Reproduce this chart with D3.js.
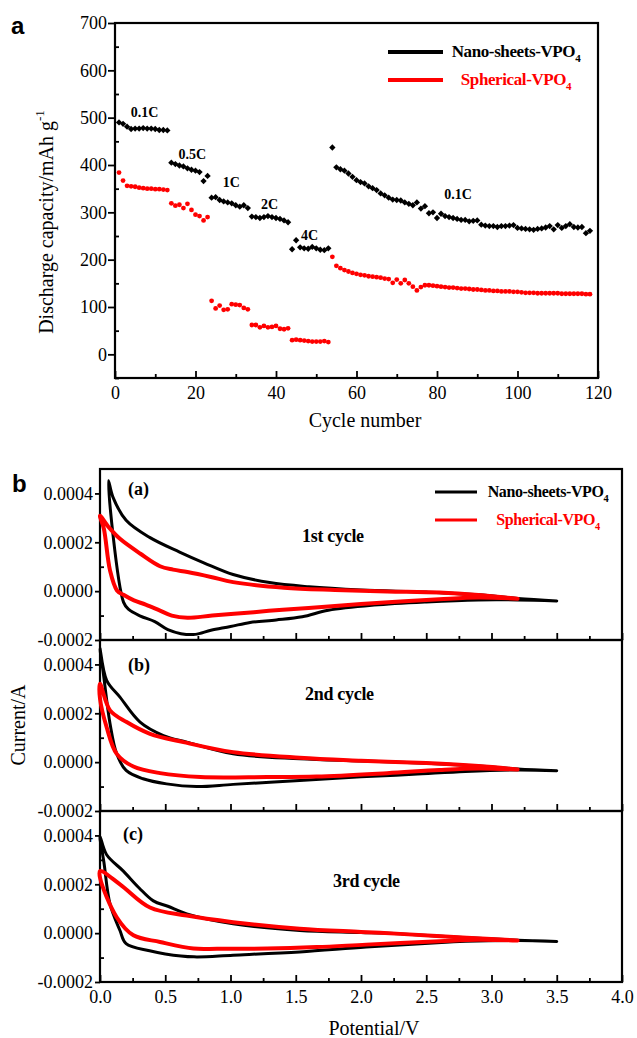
<!DOCTYPE html>
<html>
<head>
<meta charset="utf-8">
<script src="https://cdn.jsdelivr.net/npm/d3@7"></script>
<style>
  body { margin: 0; background: #fff; }
</style>
</head>
<body>
<div id="chart"></div>
<script>
// ---------- data: panel a (discharge capacity, mAh g-1, cycles 1..118) ----------
const seriesNames = ['Nano-sheets-VPO', 'Spherical-VPO']
const seriesColors = ['#000', '#f00']

const nanoCapacity = [
  // 0.1C
  490, 487, 481, 476, 477, 477, 478, 477, 477, 476, 474, 474, 473,
  // 0.5C
  405, 402, 399, 397, 393, 390, 388, 385, 366, 377,
  // 1C
  331, 332, 326, 323, 321, 319, 315, 312, 315, 309,
  // 2C
  291, 290, 288, 290, 292, 290, 288, 286, 283, 279,
  // 4C
  222, 241, 226, 224, 223, 227, 224, 221, 220, 224,
  // 0.1C again
  437, 395, 391, 388, 382, 375, 368, 364, 361, 355,
  351, 347, 340, 336, 331, 327, 326, 325, 321, 318,
  315, 321, 308, 313, 298, 300, 288, 297, 292, 290,
  288, 286, 284, 284, 281, 282, 283, 274, 272, 271,
  271, 269, 271, 271, 272, 273, 267, 266, 265, 264,
  263, 265, 266, 268, 271, 264, 273, 267, 271, 275,
  269, 268, 269, 256, 261,
]

const sphericalCapacity = [
  384, 367, 356, 355, 354, 352, 351, 350, 350, 349, 349, 348, 347,
  319, 314, 316, 309, 318, 305, 295, 292, 283, 290,
  113, 97, 103, 94, 95, 106, 105, 104, 98, 95,
  62, 62, 57, 60, 57, 58, 60, 54, 53, 55,
  30, 31, 30, 29, 28, 27, 27, 27, 28, 26,
  206, 187, 182, 178, 175, 172, 170, 168, 167, 165,
  164, 163, 162, 160, 159, 151, 158, 150, 157, 150,
  143, 135, 142, 146, 146, 145, 144, 143, 142, 141,
  141, 140, 139, 139, 138, 137, 137, 136, 135, 135,
  134, 134, 133, 133, 133, 132, 132, 131, 130, 130,
  130, 129, 129, 129, 129, 129, 129, 128, 128, 128,
  128, 128, 128, 127, 127,
]

const rateLabels = ['0.1C', '0.5C', '1C', '2C', '4C', '0.1C']
// [cycle, capacity] where each rate label starts (baseline)
const rateLabelAnchors = [[3.9, 501], [15.8, 412], [26.8, 354], [36.3, 307], [46.2, 242], [81.8, 328]]

const capacityTicks = [0, 100, 200, 300, 400, 500, 600, 700]
const cycleTicks = [0, 20, 40, 60, 80, 100, 120]

// ---------- data: panel b (cyclic voltammetry, [potential V, current in 1e-4 A]) ----------
const cycleNames = ['1st cycle', '2nd cycle', '3rd cycle']
const panelTags = ['(a)', '(b)', '(c)']

const nanoCV1 = [
  [3.50, -0.40], [3.20, -0.36], [2.90, -0.36], [2.50, -0.44], [2.10, -0.57], [1.75, -0.78],
  [1.55, -1.05], [1.35, -1.18], [1.15, -1.28], [1.00, -1.45], [0.85, -1.60], [0.73, -1.77],
  [0.62, -1.74], [0.52, -1.58], [0.42, -1.25], [0.31, -1.02], [0.22, -0.75], [0.18, -0.45],
  [0.065, 4.52], [0.10, 3.84], [0.20, 2.90], [0.38, 2.20], [0.61, 1.60], [0.80, 1.15],
  [1.02, 0.68], [1.30, 0.35], [1.60, 0.18], [2.00, 0.05], [2.50, -0.04], [2.90, -0.15],
  [3.20, -0.30], [3.50, -0.40],
]
const sphericalCV1 = [
  [3.20, -0.31], [2.90, -0.26], [2.60, -0.33], [2.30, -0.42], [2.00, -0.53], [1.70, -0.65],
  [1.40, -0.76], [1.18, -0.86], [0.86, -1.00], [0.67, -1.09], [0.55, -1.00], [0.46, -0.80],
  [0.35, -0.55], [0.26, -0.38], [0.18, -0.15], [0.13, 0.03], [0.077, 0.84], [0.03, 2.55],
  [0.00, 3.09], [0.07, 2.60], [0.153, 2.14], [0.31, 1.53], [0.46, 1.02], [0.56, 0.88],
  [0.67, 0.78], [0.85, 0.58], [1.02, 0.37], [1.41, 0.14], [1.80, 0.05], [2.20, -0.01],
  [2.60, -0.06], [2.90, -0.16], [3.20, -0.31],
]
const nanoCV2 = [
  [3.50, -0.35], [3.20, -0.32], [2.80, -0.38], [2.40, -0.50], [2.00, -0.60], [1.53, -0.75],
  [1.02, -0.91], [0.74, -1.00], [0.51, -0.89], [0.33, -0.68], [0.20, -0.34], [0.128, 0.34],
  [0.077, 1.57], [0.026, 3.62], [0.00, 4.65], [0.051, 3.35], [0.153, 2.66], [0.307, 1.64],
  [0.486, 1.09], [0.665, 0.82], [1.02, 0.34], [1.53, 0.14], [2.00, 0.05], [2.50, -0.05],
  [2.90, -0.16], [3.20, -0.28], [3.50, -0.35],
]
const sphericalCV2 = [
  [3.20, -0.30], [2.90, -0.26], [2.60, -0.32], [2.20, -0.45], [1.66, -0.59], [1.28, -0.61],
  [0.77, -0.61], [0.46, -0.45], [0.256, -0.18], [0.128, 0.34], [0.051, 1.43], [0.00, 2.60],
  [0.00, 3.21], [0.077, 2.12], [0.204, 1.64], [0.383, 1.16], [0.639, 0.82], [1.02, 0.41],
  [1.53, 0.18], [2.00, 0.06], [2.50, -0.04], [2.90, -0.16], [3.20, -0.30],
]
const nanoCV3 = [
  [3.50, -0.34], [3.20, -0.30], [2.80, -0.33], [2.68, -0.36], [2.04, -0.57], [1.53, -0.77],
  [1.02, -0.90], [0.72, -0.97], [0.50, -0.85], [0.38, -0.72], [0.20, -0.43], [0.153, 0.11],
  [0.077, 1.19], [0.03, 2.90], [0.00, 3.96], [0.051, 3.21], [0.179, 2.54], [0.30, 1.85],
  [0.409, 1.32], [0.52, 1.10], [0.665, 0.79], [1.02, 0.38], [1.53, 0.11], [2.00, 0.03],
  [2.30, -0.03], [2.81, -0.19], [3.20, -0.29], [3.50, -0.34],
]
const sphericalCV3 = [
  [3.20, -0.30], [2.90, -0.27], [2.60, -0.33], [2.04, -0.47], [1.66, -0.57], [1.28, -0.63],
  [0.90, -0.64], [0.716, -0.63], [0.46, -0.36], [0.256, -0.09], [0.128, 0.65], [0.00, 2.27],
  [0.00, 2.54], [0.153, 2.00], [0.383, 1.05], [0.665, 0.72], [1.02, 0.45], [1.53, 0.18],
  [2.00, 0.05], [2.30, -0.03], [2.81, -0.19], [3.20, -0.30],
]
const cvCurves = [[nanoCV1, sphericalCV1], [nanoCV2, sphericalCV2], [nanoCV3, sphericalCV3]]

const currentTicks = [-2, 0, 2, 4]
const potentialTicks = [0, 0.5, 1, 1.5, 2, 2.5, 3, 3.5, 4]

// ---------- layout ----------
const width = 637
const height = 1038
const serif = '"Liberation Serif", "Times New Roman", serif'
const sans = '"Liberation Sans", Arial, sans-serif'

const svg = d3
  .select('#chart')
  .append('svg')
  .attr('width', width)
  .attr('height', height)
  .attr('viewBox', `0 0 ${width} ${height}`)

svg.append('rect').attr('width', width).attr('height', height).attr('fill', '#fff')

// style an axis group: serif labels, thicker ticks, no domain path
function styleAxis(g, fontSize = 18) {
  g.select('.domain').remove()
  g.attr('font-family', serif).attr('font-size', fontSize)
  g.selectAll('line').attr('stroke', '#000').attr('stroke-width', 1.8)
  g.selectAll('text').attr('fill', '#000')
}

// ========== panel a ==========
const pa = { left: 115, right: 598, top: 23, bottom: 378 }
const xA = d3.scaleLinear().domain([0, 120]).range([pa.left, pa.right])
const yA = d3.scaleLinear().domain([-50, 700]).range([pa.bottom, pa.top])

const gA = svg.append('g').attr('class', 'panel-a')

gA.append('g')
  .attr('transform', `translate(0,${pa.bottom})`)
  .call(d3.axisBottom(xA).tickValues(cycleTicks).tickSize(-7).tickPadding(8))
  .call(styleAxis)
gA.append('g')
  .attr('transform', `translate(0,${pa.bottom})`)
  .call(d3.axisBottom(xA).tickValues(cycleTicks.slice(1).map((t) => t - 10)).tickSize(-4).tickFormat(''))
  .call(styleAxis)
gA.append('g')
  .attr('transform', `translate(${pa.left},0)`)
  .call(d3.axisLeft(yA).tickValues(capacityTicks).tickSize(7).tickPadding(1))
  .call(styleAxis)
gA.append('g')
  .attr('transform', `translate(${pa.left},0)`)
  .call(d3.axisLeft(yA).tickValues(capacityTicks.map((t) => t - 50)).tickSize(-4).tickFormat(''))
  .call(styleAxis)

gA.append('rect')
  .attr('x', pa.left)
  .attr('y', pa.top)
  .attr('width', pa.right - pa.left)
  .attr('height', pa.bottom - pa.top)
  .attr('fill', 'none')
  .attr('stroke', '#000')
  .attr('stroke-width', 2.2)

// markers
const diamond = d3.symbol().type(d3.symbolSquare).size(20)
gA.append('g')
  .selectAll('path')
  .data(nanoCapacity)
  .join('path')
  .attr('d', diamond)
  .attr('transform', (d, i) => `translate(${xA(i + 1)},${yA(d)}) rotate(45)`)
  .attr('fill', seriesColors[0])

gA.append('g')
  .selectAll('circle')
  .data(sphericalCapacity)
  .join('circle')
  .attr('cx', (d, i) => xA(i + 1))
  .attr('cy', (d) => yA(d))
  .attr('r', 2.4)
  .attr('fill', seriesColors[1])

// rate labels
gA.append('g')
  .selectAll('text')
  .data(rateLabels)
  .join('text')
  .attr('x', (d, i) => xA(rateLabelAnchors[i][0]))
  .attr('y', (d, i) => yA(rateLabelAnchors[i][1]))
  .attr('font-family', serif)
  .attr('font-weight', 700)
  .attr('font-size', 14)
  .text((d) => d)

// legend
function drawLegend(g, x1, x2, y0, dy, textX, fontSize, lineWidth) {
  seriesNames.forEach((name, i) => {
    const y = y0 + i * dy
    g.append('line')
      .attr('x1', x1)
      .attr('x2', x2)
      .attr('y1', y)
      .attr('y2', y)
      .attr('stroke', seriesColors[i])
      .attr('stroke-width', lineWidth)
    const t = g.append('text')
      .attr('x', textX)
      .attr('y', y + 5)
      .attr('text-anchor', 'middle')
      .attr('font-family', serif)
      .attr('font-weight', 700)
      .attr('font-size', fontSize)
      .attr('letter-spacing', -0.4)
      .attr('fill', seriesColors[i])
    t.append('tspan').text(name)
    t.append('tspan').attr('font-size', fontSize * 0.65).attr('dy', 5).text('4')
  })
}
drawLegend(gA, 388, 443, 52, 28, 516, 17, 4)

// axis titles
gA.append('text')
  .attr('x', 365)
  .attr('y', 427)
  .attr('text-anchor', 'middle')
  .attr('font-family', serif)
  .attr('font-size', 20)
  .text('Cycle number')

const yTitleA = gA.append('text')
  .attr('transform', 'translate(53,222) rotate(-90)')
  .attr('text-anchor', 'middle')
  .attr('font-family', serif)
  .attr('font-size', 20)
yTitleA.append('tspan').text('Discharge capacity/mAh g')
yTitleA.append('tspan').attr('font-size', 13).attr('dy', -9).text('-1')

svg.append('text')
  .attr('x', 11)
  .attr('y', 34)
  .attr('font-family', sans)
  .attr('font-weight', 700)
  .attr('font-size', 24)
  .text('a')

// ========== panel b ==========
const pb = { left: 100, right: 622, tops: [469, 640, 811], h: 171 }
const xB = d3.scaleLinear().domain([0, 4]).range([pb.left, pb.right])
const fmtCurrent = (d) => (d < 0 ? '-' : '') + d3.format('.4f')(Math.abs(d) * 1e-4)

const gB = svg.append('g').attr('class', 'panel-b')

pb.tops.forEach((top, k) => {
  const yB = d3.scaleLinear().domain([-2, 5]).range([top + pb.h, top])
  const g = gB.append('g').attr('class', `cv-${k}`)
  const last = k === pb.tops.length - 1

  g.append('g')
    .attr('transform', `translate(0,${top + pb.h})`)
    .call(
      d3.axisBottom(xB)
        .tickValues(potentialTicks)
        .tickSize(-7)
        .tickPadding(8)
        .tickFormat(last ? d3.format('.1f') : '')
    )
    .call(styleAxis)
  g.append('g')
    .attr('transform', `translate(0,${top + pb.h})`)
    .call(d3.axisBottom(xB).tickValues(potentialTicks.slice(1).map((t) => t - 0.25)).tickSize(-4).tickFormat(''))
    .call(styleAxis)
  g.append('g')
    .attr('transform', `translate(${pb.left},0)`)
    .call(d3.axisLeft(yB).tickValues(currentTicks).tickSize(5).tickPadding(2).tickFormat(fmtCurrent))
    .call(styleAxis)
  g.append('g')
    .attr('transform', `translate(${pb.left},0)`)
    .call(d3.axisLeft(yB).tickValues(currentTicks.slice(1).map((t) => t - 1)).tickSize(-4).tickFormat(''))
    .call(styleAxis)

  g.append('rect')
    .attr('x', pb.left)
    .attr('y', top)
    .attr('width', pb.right - pb.left)
    .attr('height', pb.h)
    .attr('fill', 'none')
    .attr('stroke', '#000')
    .attr('stroke-width', 2.2)

  const line = d3
    .line()
    .x((d) => xB(d[0]))
    .y((d) => yB(d[1]))
    .curve(d3.curveCatmullRom.alpha(0.5))

  cvCurves[k].forEach((pts, i) => {
    g.append('path')
      .attr('d', line(pts))
      .attr('fill', 'none')
      .attr('stroke', seriesColors[i])
      .attr('stroke-width', i === 0 ? 3 : 4)
      .attr('stroke-linejoin', 'round')
      .attr('stroke-linecap', 'round')
  })

  g.append('text')
    .attr('x', k === 2 ? 123 : 128)
    .attr('y', top + [26, 31, 29][k])
    .attr('font-family', serif)
    .attr('font-weight', 700)
    .attr('font-size', 18)
    .text(panelTags[k])

  g.append('text')
    .attr('x', [302, 305, 333][k])
    .attr('y', top + [73, 60, 76][k])
    .attr('font-family', serif)
    .attr('font-weight', 700)
    .attr('font-size', 18)
    .attr('letter-spacing', -0.3)
    .text(cycleNames[k])
})

drawLegend(gB, 435, 477, 492, 28, 548, 16, 3)

gB.append('text')
  .attr('x', 374)
  .attr('y', 1035)
  .attr('text-anchor', 'middle')
  .attr('font-family', serif)
  .attr('font-size', 20)
  .text('Potential/V')

gB.append('text')
  .attr('transform', 'translate(25,725) rotate(-90)')
  .attr('text-anchor', 'middle')
  .attr('font-family', serif)
  .attr('font-size', 20)
  .text('Current/A')

svg.append('text')
  .attr('x', 12)
  .attr('y', 492)
  .attr('font-family', sans)
  .attr('font-weight', 700)
  .attr('font-size', 24)
  .text('b')
</script>
</body>
</html>
